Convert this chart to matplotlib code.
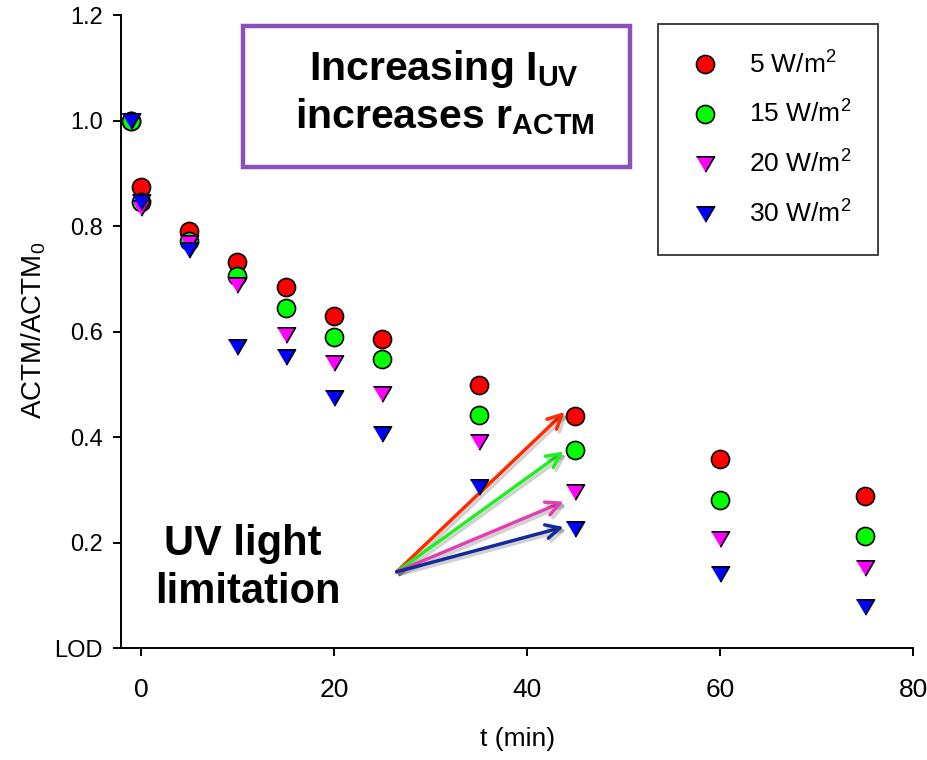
import matplotlib
matplotlib.use("Agg")
import matplotlib.pyplot as plt
import matplotlib.patheffects as pe
from matplotlib.patches import Rectangle

plt.rcParams['font.family'] = ['Liberation Sans', 'DejaVu Sans']
plt.rcParams['mathtext.default'] = 'regular'

# ---- data ----
t_min = [-1, 0, 5, 10, 15, 20, 25, 35, 45, 60, 75]
series_labels = ["5 W/m$^2$", "15 W/m$^2$", "20 W/m$^2$", "30 W/m$^2$"]
ratio_5 = [1.0, 0.875, 0.791, 0.732, 0.684, 0.630, 0.586, 0.500, 0.440, 0.358, 0.289]
ratio_15 = [1.0, 0.846, 0.773, 0.705, 0.646, 0.591, 0.548, 0.442, 0.375, 0.281, 0.213]
ratio_20 = [1.0, 0.834, 0.768, 0.689, 0.594, 0.540, 0.482, 0.392, 0.297, 0.208, 0.153]
ratio_30 = [1.0, 0.847, 0.755, 0.572, 0.553, 0.474, 0.406, 0.305, 0.227, 0.140, 0.078]
y_ticks = [0.0, 0.2, 0.4, 0.6, 0.8, 1.0, 1.2]
y_ticklabels = ["LOD", "0.2", "0.4", "0.6", "0.8", "1.0", "1.2"]
x_ticks = [0, 20, 40, 60, 80]

arrow_start = (26.5, 0.145)
arrow_tips = [(43.9, 0.448), (43.8, 0.373), (43.8, 0.278), (43.8, 0.230)]
arrow_colors = ["#ff2a00", "#22ee22", "#e040b0", "#142a9a"]

W, H = 927, 760
fig = plt.figure(figsize=(W / 100, H / 100), dpi=100)

def fx(px):
    return px / W

def fy(py):
    return 1 - py / H

ax = fig.add_axes([fx(121), fy(648.3), (913 - 121) / W, (648.3 - 15.3) / H])
ax.set_xlim(-2.07, 80)
ax.set_ylim(0, 1.2)

tri = [(-1, 0.85), (1, 0.85), (0, -0.85)]
styles = [
    dict(marker='o', color='#ff0000', ms=13.0),
    dict(marker='o', color='#00ff00', ms=13.0),
    dict(marker=tri, color='#ff00ff', ms=13.0),
    dict(marker=tri, color='#0000ff', ms=13.0),
]
handles = []
for vals, st, lab in zip([ratio_5, ratio_15, ratio_20, ratio_30], styles, series_labels):
    ln, = ax.plot(t_min, vals, linestyle='none', marker=st['marker'], ms=st['ms'],
                  markerfacecolor=st['color'], markeredgecolor='black', markeredgewidth=1.2,
                  label=lab, zorder=3)
    handles.append(ln)

# arrows
for tip, col in zip(arrow_tips, arrow_colors):
    ax.annotate("", xy=tip, xytext=arrow_start,
                arrowprops=dict(arrowstyle="->,head_length=1.0,head_width=0.5",
                                color=col, lw=2.5, shrinkA=0, shrinkB=0,
                                path_effects=[pe.SimpleLineShadow(offset=(2, -2), shadow_color='k', alpha=0.18),
                                              pe.Normal()]),
                zorder=2)

# axes styling
for s in ['top', 'right']:
    ax.spines[s].set_visible(False)
for s in ['left', 'bottom']:
    ax.spines[s].set_linewidth(1.4)
ax.set_yticks(y_ticks)
ax.set_yticklabels(y_ticklabels)
ax.set_xticks(x_ticks)
ax.tick_params(axis='y', direction='out', length=6, width=1.4, labelsize=17, pad=7)
ax.tick_params(axis='x', direction='out', length=5.5, width=1.4, labelsize=19, pad=16)

ax.set_xlabel("t (min)", fontsize=19)
ax.xaxis.set_label_coords(0.501, -0.125)
ax.set_ylabel("ACTM/ACTM$_0$", fontsize=20)
ax.yaxis.set_label_coords(-0.092, 0.503)

# legend
leg = ax.legend(handles=handles, loc='upper left',
                bbox_to_anchor=(fx(658), fy(24)), bbox_transform=fig.transFigure,
                frameon=True, fancybox=False, edgecolor='black', fontsize=19,
                borderpad=1.02, labelspacing=0.86, handlelength=1.5, handletextpad=0.93,
                borderaxespad=0)
leg.get_frame().set_linewidth(1.3)

# annotation box
fig.patches.append(Rectangle((fx(243), fy(167)), fx(630 - 243), (167 - 26) / H,
                             transform=fig.transFigure, fill=False,
                             edgecolor='#8a52b8', linewidth=3.2))
fig.text(fx(444), fy(80), "Increasing I$_{UV}$", fontsize=29.5, fontweight='bold',
         ha='center', va='baseline')
fig.text(fx(445), fy(128), "increases r$_{ACTM}$", fontsize=29.5, fontweight='bold',
         ha='center', va='baseline')

fig.text(fx(243), fy(555), "UV light", fontsize=30, fontweight='bold',
         ha='center', va='baseline')
fig.text(fx(248), fy(603), "limitation", fontsize=30, fontweight='bold',
         ha='center', va='baseline')

fig.savefig("out.png", dpi=100)
